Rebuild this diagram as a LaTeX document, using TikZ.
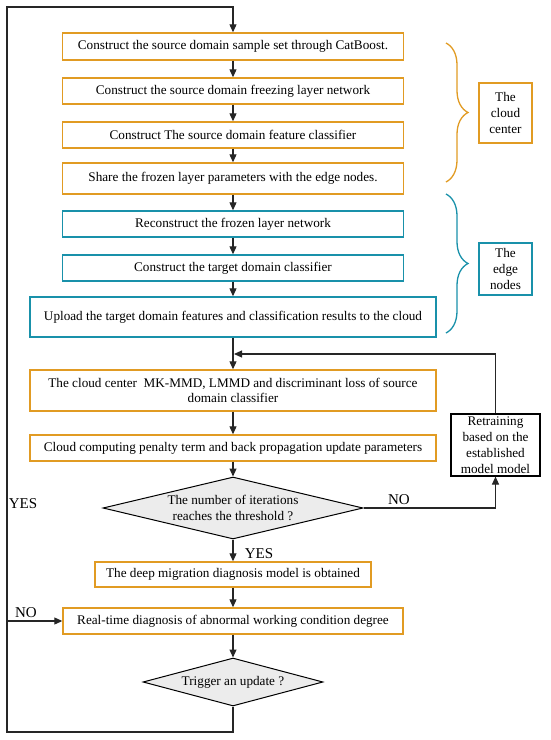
\documentclass[tikz,border=0pt]{standalone}
\usepackage{fontspec}
\setmainfont{Liberation Serif}
\usetikzlibrary{arrows.meta,shapes.geometric,decorations.pathreplacing}

\definecolor{cloudorange}{RGB}{225,155,35}
\definecolor{edgeteal}{RGB}{25,145,170}

\begin{document}
\begin{tikzpicture}[x=1pt,y=-1pt,
  font=\fontsize{13.2}{15.8}\selectfont,
  obox/.style={draw=cloudorange,line width=1.4pt,minimum height=26pt,inner sep=2pt,align=center},
  tbox/.style={draw=edgeteal,line width=1.4pt,minimum height=26pt,inner sep=2pt,align=center},
  sidebox/.style={line width=1.4pt,minimum width=53pt,inner sep=1pt,align=center},
  decide/.style={shape=diamond,draw,fill=gray!15,line width=1pt,inner sep=0pt,align=center},
  arr/.style={draw=black!85,-{Triangle[length=8pt,width=7pt]},line width=1.1pt},
  grp/.style={line width=1.3pt,decorate,decoration={brace,amplitude=22pt}},
  yesno/.style={font=\fontsize{15}{18}\selectfont,inner sep=0pt}]
\useasboundingbox (0,0) rectangle (550,740);
% cloud center:
\node[obox,minimum width=341pt,minimum height=27pt] (src) at (233,46.5) {Construct the source domain sample set through CatBoost.};
\node[obox,minimum width=341pt] (frz) at (233,91) {Construct the source domain freezing layer network};
\node[obox,minimum width=341pt] (cls) at (233,135) {Construct The source domain feature classifier};
\node[obox,minimum width=341pt,minimum height=31pt] (shr) at (233,178.5) {Share the frozen layer parameters with the edge nodes.};
% edge nodes:
\node[tbox,minimum width=341pt] (rec) at (233,224) {Reconstruct the frozen layer network};
\node[tbox,minimum width=341pt] (tgt) at (233,268) {Construct the target domain classifier};
\node[tbox,minimum width=406pt,minimum height=40pt] (upl) at (233,317) {Upload the target domain features and classification results to the cloud};
% training:
\node[obox,minimum width=406pt,minimum height=41pt] (mmd) at (233,390.5) {The cloud center~ MK-MMD, LMMD and discriminant loss of source\\domain classifier};
\node[obox,minimum width=406pt] (pen) at (233,448) {Cloud computing penalty term and back propagation update parameters};
\node[decide,shape aspect=4.2,minimum width=260pt,minimum height=62pt] (itr) at (233,508) {The number of iterations\\reaches the threshold ?};
\node[draw,line width=1.1pt,minimum width=89pt,minimum height=62pt,inner sep=1pt,align=center] (rtr) at (495.5,445) {Retraining\\based on the\\established\\model model};
% diagnosis:
\node[obox,minimum width=276pt,minimum height=25pt] (mdl) at (233,574.5) {The deep migration diagnosis model is obtained};
\node[obox,minimum width=340pt] (diag) at (233,621) {Real-time diagnosis of abnormal working condition degree};
\node[decide,shape aspect=3.75,minimum width=180pt,minimum height=48pt] (upd) at (233,682) {Trigger an update ?};
% side labels:
\node[sidebox,draw=cloudorange,minimum height=60pt] (cc) at (505.5,113) {The\\cloud\\center};
\node[sidebox,draw=edgeteal,minimum height=52pt] (en) at (505.5,269) {The\\edge\\nodes};
\draw[grp,cloudorange] (446,43) -- (446,182);
\draw[grp,edgeteal] (446,194) -- (446,333);
% arrows down:
\foreach \a/\b in {src/frz,frz/cls,cls/shr,shr/rec,rec/tgt,tgt/upl,upl/mmd,mmd/pen,pen/itr,itr/mdl,mdl/diag,diag/upd}
  \draw[arr] (\a) -- (\b);
% loops:
\coordinate (lb) at (7,732);
\coordinate (lt) at (7,7);
\coordinate (nb) at (7,621);
\coordinate (fb) at (234,354);
\draw[arr] (upd.south) |- (lb) -- (lt) -| (src.north);
\draw[arr] (nb) -- (diag.west);
\draw[arr] (itr.east) -| (rtr.south);
\draw[arr] (rtr.north) |- (fb);
\node[yesno] (yes1) at (23,504) {YES};
\node[yesno] (no1) at (399,500) {NO};
\node[yesno] (yes2) at (259,554) {YES};
\node[yesno] (no2) at (26,613) {NO};
\end{tikzpicture}
\end{document}
